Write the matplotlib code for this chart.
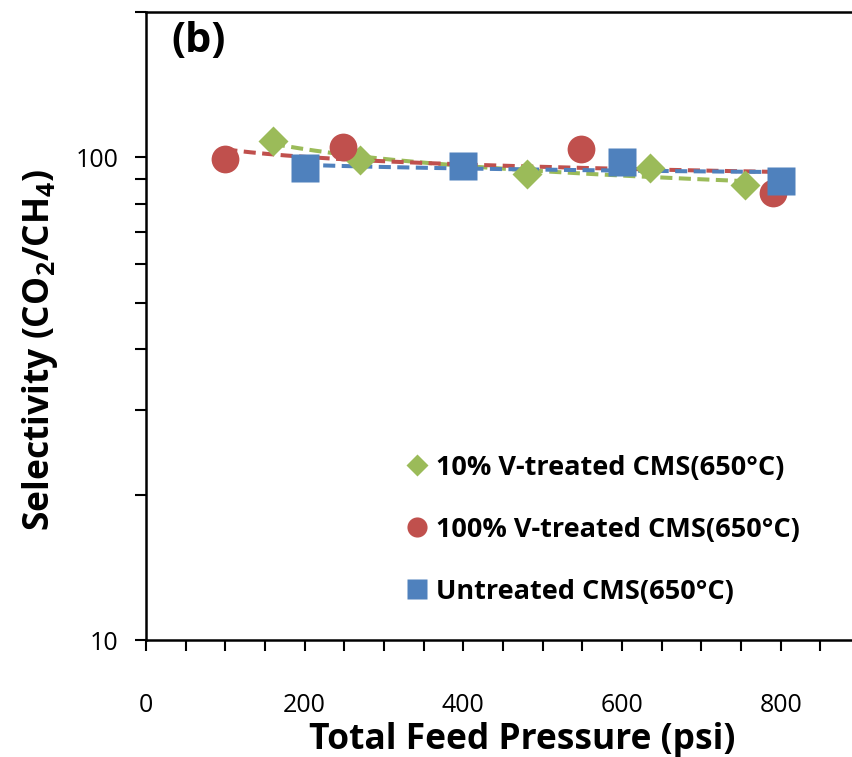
import numpy as np
import matplotlib
matplotlib.use("Agg")
import matplotlib.pyplot as plt
from matplotlib.ticker import MultipleLocator, LogLocator, NullFormatter, FixedLocator, FixedFormatter
from matplotlib.lines import Line2D

plt.rcParams['font.family'] = ['Open Sans', 'DejaVu Sans']
plt.rcParams['mathtext.fontset'] = 'custom'
plt.rcParams['mathtext.rm'] = 'Open Sans'
plt.rcParams['mathtext.bf'] = 'Open Sans:bold'

# Selectivity vs. total feed pressure
p_10v = [160, 270, 480, 635, 755]
s_10v = [108, 98.6, 92.5, 95, 87.5]

p_100v = [100, 248, 548, 790]
s_100v = [99, 105, 104, 84.5]

p_untr = [200, 400, 600, 800]
s_untr = [95, 96, 98, 89.5]

labels = ["10% V-treated CMS(650°C)", "100% V-treated CMS(650°C)", "Untreated CMS(650°C)"]
colors = ["#9BBB59", "#C0504D", "#4F81BD"]
markers = ["D", "o", "s"]
msizes = [15.5, 20, 20]
legend_sizes = [11, 14.5, 14.5]

fig = plt.figure(figsize=(8.53, 7.57), dpi=100)
ax = fig.add_axes([146 / 853, 1 - 640 / 757, (860 - 146) / 853, (640 - 12) / 757])

series = [(p_10v, s_10v), (p_100v, s_100v), (p_untr, s_untr)]

# power-law trendlines (fit in log-log space) drawn as dashed lines
for (x, y), c in zip(series, colors):
    lx, ly = np.log(x), np.log(y)
    b, a = np.polyfit(lx, ly, 1)
    xs = np.linspace(min(x), max(x), 200)
    ax.plot(xs, np.exp(a) * xs ** b, ls=(0, (3.0, 1.6)), color=c, lw=2.9, zorder=2)

for (x, y), c, m, ms in zip(series, colors, markers, msizes):
    ax.plot(x, y, ls='none', marker=m, ms=ms, color=c, mec='none', zorder=3)

ax.set_yscale('log')
ax.set_xlim(0, 900)
ax.set_ylim(10, 200)

ax.xaxis.set_major_locator(MultipleLocator(200))
ax.xaxis.set_minor_locator(MultipleLocator(50))
ax.yaxis.set_major_locator(FixedLocator([10, 100]))
ax.yaxis.set_major_formatter(FixedFormatter(["10", "100"]))
ax.yaxis.set_minor_locator(LogLocator(base=10, subs=np.arange(2, 10)))
ax.yaxis.set_minor_formatter(NullFormatter())

ax.tick_params(axis='both', which='both', direction='out', length=8, width=1.5, colors='black')
ax.tick_params(axis='x', which='major', labelsize=18, pad=30)
ax.tick_params(axis='y', which='major', labelsize=18, pad=12)
ax.tick_params(top=False, right=False)

for sp in ['left', 'bottom', 'top', 'right']:
    ax.spines[sp].set_linewidth(1.8)

fig.text(522 / 853, 1 - 740 / 757, "Total Feed Pressure (psi)", ha='center', va='center',
         fontsize=25.5, fontweight='bold')
fig.text(40 / 853, 1 - 350 / 757, r"Selectivity (CO$_{\mathbf{2}}$/CH$_{\mathbf{4}}$)",
         ha='center', va='center', rotation=90, fontsize=25.5, fontweight='bold')

ax.text(0.035, 0.985, "(b)", transform=ax.transAxes, ha='left', va='top',
        fontsize=30, fontweight='bold')

handles = [Line2D([], [], ls='none', marker=m, ms=s, color=c, mec='none')
           for m, c, s in zip(markers, colors, legend_sizes)]
leg = ax.legend(handles, labels, loc='lower left', bbox_to_anchor=(0.332, 0.017),
                frameon=False, handlelength=0.7, handletextpad=0.35, labelspacing=1.33,
                prop={'size': 19.5, 'weight': 'bold'})

fig.savefig("out.png", dpi=100)
